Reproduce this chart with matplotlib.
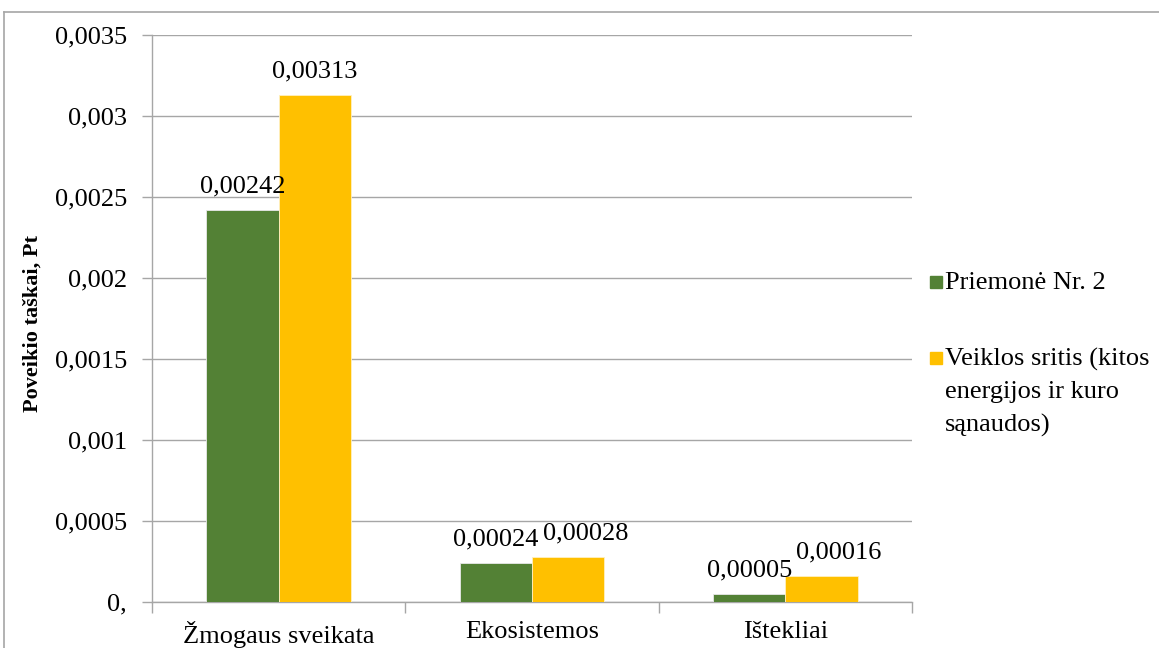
import matplotlib
matplotlib.use("Agg")
import matplotlib.pyplot as plt
from matplotlib.patches import Rectangle
from matplotlib.lines import Line2D
import numpy as np

plt.rcParams['font.family'] = ['Liberation Serif', 'DejaVu Serif']

categories = ["Žmogaus sveikata", "Ekosistemos", "Ištekliai"]
series_names = ["Priemonė Nr. 2", "Veiklos sritis (kitos\nenergijos ir kuro\nsąnaudos)"]
values_priemone = [0.00242, 0.00024, 0.00005]
values_veikla = [0.00313, 0.00028, 0.00016]
labels_priemone = ["0,00242", "0,00024", "0,00005"]
labels_veikla = ["0,00313", "0,00028", "0,00016"]
yticks = [0, 0.0005, 0.001, 0.0015, 0.002, 0.0025, 0.003, 0.0035]
ytick_labels = ["0,", "0,0005", "0,001", "0,0015", "0,002", "0,0025", "0,003", "0,0035"]
ylabel = "Poveikio taškai, Pt"
colors = ["#538135", "#FFC000"]

FS = 19
W, H = 1159, 648
fig = plt.figure(figsize=(W / 100, H / 100), dpi=100)
ax = fig.add_axes([152 / W, 1 - 602 / H, (912 - 152) / W, (602 - 35) / H])

x = np.arange(len(categories))
bw = 0.285
b1 = ax.bar(x - bw / 2, values_priemone, bw, color=colors[0], zorder=3,
            edgecolor="#E8E8E8", linewidth=0.6)
b2 = ax.bar(x + bw / 2, values_veikla, bw, color=colors[1], zorder=3,
            edgecolor="#FFF0C0", linewidth=0.6)

ax.set_xlim(-0.5, 2.5)
ax.set_ylim(0, 0.0035)

# data labels; right label nudged right when it would collide with the left one
renderer = fig.canvas.get_renderer()
for r1, r2, l1, l2 in zip(b1, b2, labels_priemone, labels_veikla):
    t1 = ax.annotate(l1, (r1.get_x() + r1.get_width() / 2, r1.get_height()),
                     xytext=(0, 12.5), textcoords="offset points", ha="center",
                     va="baseline", fontsize=FS, zorder=4)
    t2 = ax.annotate(l2, (r2.get_x() + r2.get_width() / 2, r2.get_height()),
                     xytext=(0, 12.5), textcoords="offset points", ha="center",
                     va="baseline", fontsize=FS, zorder=4)
    e1 = t1.get_window_extent(renderer)
    e2 = t2.get_window_extent(renderer)
    if e2.y0 < e1.y1 and e2.x0 < e1.x1 + 4:
        shift_px = e1.x1 + 4 - e2.x0
        t2.set_position((shift_px * 72 / fig.dpi, 12.5))

ax.set_yticks(yticks)
ax.set_yticklabels(ytick_labels, fontsize=FS)
ax.set_xticks(x)
ax.set_xticklabels(categories, fontsize=FS)
ax.set_xticks([-0.5, 0.5, 1.5, 2.5], minor=True)
ax.tick_params(axis="x", which="major", length=0, pad=14)
ax.tick_params(axis="x", which="minor", length=8, color="#A6A6A6", width=1)
ax.tick_params(axis="y", length=7, color="#A6A6A6", width=1, pad=11)
ax.yaxis.grid(True, color="#A6A6A6", linewidth=1, zorder=0)
ax.set_axisbelow(True)
for s in ("top", "right"):
    ax.spines[s].set_visible(False)
for s in ("left", "bottom"):
    ax.spines[s].set_color("#A6A6A6")
    ax.spines[s].set_linewidth(1)

ax.set_ylabel(ylabel, fontsize=16, fontweight="bold")
ax.yaxis.set_label_coords(43 / W, 0.5, transform=fig.transFigure)

# legend (manual placement to match reference)
sq = 12
leg_x = 930
for name, c, yc in zip(series_names, colors, [282, 358]):
    fig.patches.append(Rectangle((leg_x / W, 1 - (yc + sq / 2) / H), sq / W, sq / H,
                                 transform=fig.transFigure, color=c, figure=fig))
    fig.text((leg_x + sq + 3) / W, 1 - (yc - 10) / H, name, fontsize=FS,
             va="top", ha="left", linespacing=1.6)

# outer frame
fig.add_artist(Line2D([4 / W, 4 / W], [0, 1 - 12 / H], transform=fig.transFigure,
                      color="#A6A6A6", linewidth=1.2))
fig.add_artist(Line2D([4 / W, 1], [1 - 12 / H, 1 - 12 / H], transform=fig.transFigure,
                      color="#A6A6A6", linewidth=1.2))

fig.savefig("out.png", dpi=100)
